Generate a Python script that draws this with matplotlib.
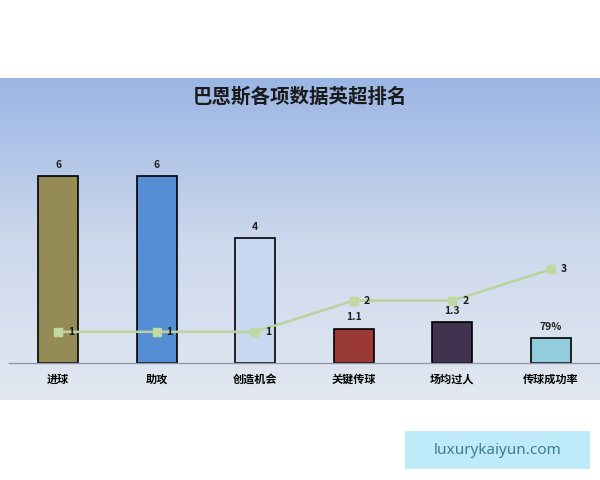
import numpy as np
import matplotlib.pyplot as plt
from matplotlib.colors import LinearSegmentedColormap

plt.rcParams['font.family'] = ['Noto Sans CJK SC', 'DejaVu Sans']

# data
categories = ['进球', '助攻', '创造机会', '关键传球', '场均过人', '传球成功率']
values = [6, 6, 4, 1.1, 1.3, 0.79]
value_labels = ['6', '6', '4', '1.1', '1.3', '79%']
ranks = [1, 1, 1, 2, 2, 3]
bar_colors = ['#958b56', '#558ed5', '#c6d9f1', '#9b3a35', '#41324f', '#93cddd']

fig = plt.figure(figsize=(6, 4.8), dpi=100)

# gradient background band
bg = fig.add_axes([0, 80 / 480, 1, 322 / 480])
cmap = LinearSegmentedColormap.from_list('bg', ['#e2e8f1', '#ccd8ec', '#9bb6e4'])
grad = np.linspace(0, 1, 256).reshape(-1, 1)
bg.imshow(grad, aspect='auto', cmap=cmap, origin='lower', extent=[0, 1, 0, 1])
bg.set_axis_off()

ax = fig.add_axes([9 / 600, 117 / 480, 591 / 600, 223 / 480])
ax.patch.set_alpha(0)
x = np.arange(len(categories))
ax.bar(x, values, width=0.41, color=bar_colors, edgecolor='black', linewidth=1.2, zorder=2)
for xi, v, lab in zip(x, values, value_labels):
    ax.text(xi, v + 0.2, lab, ha='center', va='bottom', fontsize=7.5,
            fontweight='bold', color='#222222')

ax.plot(x, ranks, color='#bad39a', linewidth=1.8, marker='s', markersize=6,
        markerfacecolor='#c0d8a2', markeredgecolor='#c0d8a2', zorder=3)
for xi, r in zip(x, ranks):
    ax.text(xi + 0.1, r, str(r), ha='left', va='center', fontsize=7.5,
            fontweight='bold', color='#1a1a1a', zorder=4)

ax.set_xlim(-0.5, 5.5)
ax.set_ylim(0, 7.15)
ax.set_yticks([])
ax.set_xticks(x)
ax.set_xticklabels(categories, fontsize=8, fontweight='bold')
ax.tick_params(axis='x', length=0, pad=7)
for s in ['top', 'right', 'left']:
    ax.spines[s].set_visible(False)
ax.spines['bottom'].set_color('#8f9aa8')
ax.spines['bottom'].set_linewidth(1)

fig.text(0.5, 1 - 97 / 480, '巴恩斯各项数据英超排名', ha='center', va='center',
         fontsize=14, fontweight='bold', color='#1a1a1a')

# watermark box
wm = fig.add_axes([405 / 600, 11 / 480, 185 / 600, 38 / 480])
wm.set_facecolor('#bfeafa')
wm.set_xticks([])
wm.set_yticks([])
for s in wm.spines.values():
    s.set_visible(False)
wm.text(0.5, 0.5, 'luxurykaiyun.com', ha='center', va='center',
        fontsize=11, color='#3f7c8e', family='Noto Sans', transform=wm.transAxes)

plt.savefig('out.png', dpi=100)
